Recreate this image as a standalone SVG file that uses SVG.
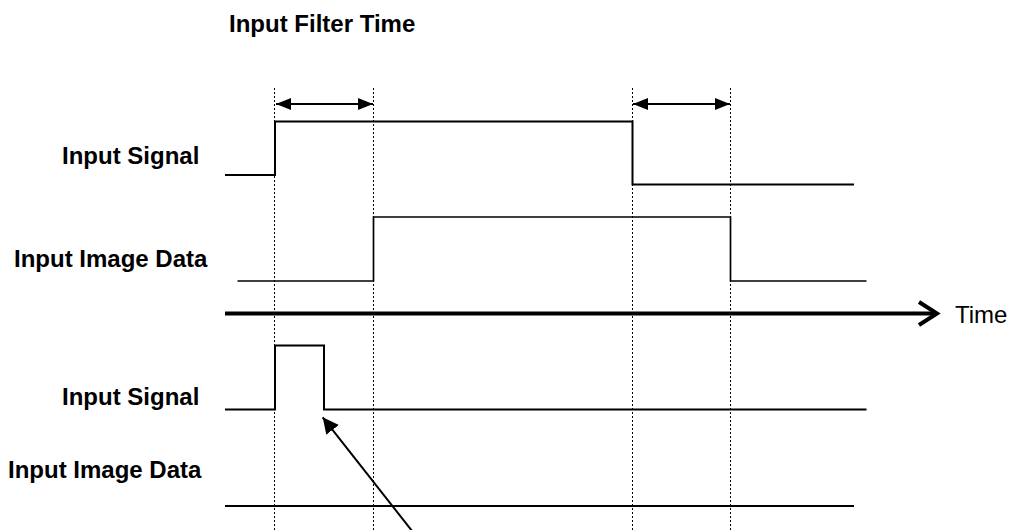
<svg xmlns="http://www.w3.org/2000/svg" width="1010" height="530" viewBox="0 0 1010 530">
  <style>
    .lbl { font-family: "Liberation Sans", Arial, sans-serif; font-size: 24px; font-weight: bold; fill: #000; }
    .reg { font-family: "Liberation Sans", Arial, sans-serif; font-size: 24px; fill: #000; }
    .sig { fill: none; stroke: #000; stroke-width: 2; stroke-linejoin: miter; }
    .sigthin { fill: none; stroke: #000; stroke-width: 1.7; }
    .dot { stroke: #000; stroke-width: 1; stroke-dasharray: 2 2; fill: none; }
    .conn { stroke: #000; stroke-width: 2; fill: none; }
  </style>
  <defs>
    <marker id="tri" viewBox="0 0 15 12" refX="15" refY="6" markerWidth="15" markerHeight="12" markerUnits="userSpaceOnUse" orient="auto-start-reverse">
      <path d="M0,0 L15,6 L0,12 Z" fill="#000"/>
    </marker>
    <marker id="tri2" viewBox="0 0 16 16" refX="16" refY="8" markerWidth="16" markerHeight="16" markerUnits="userSpaceOnUse" orient="auto">
      <path d="M0,0 L16,8 L0,16 Z" fill="#000"/>
    </marker>
  </defs>
  <rect width="1010" height="530" fill="#fff"/>

  <g id="guides">
    <line class="dot" x1="274.5" y1="88" x2="274.5" y2="530"/>
    <line class="dot" x1="373.5" y1="88" x2="373.5" y2="530"/>
    <line class="dot" x1="632.5" y1="88" x2="632.5" y2="530"/>
    <line class="dot" x1="730.5" y1="88" x2="730.5" y2="530"/>
  </g>

  <g id="title">
    <text class="lbl" x="229" y="32">Input Filter Time</text>
  </g>

  <g id="input-signal-1">
    <text class="lbl" x="62" y="164">Input Signal</text>
    <polyline class="sig" points="225,175 275,175 275,121.5 632.5,121.5 632.5,184.5 854,184.5"/>
  </g>

  <g id="input-image-data-1">
    <text class="lbl" x="14" y="267">Input Image Data</text>
    <polyline class="sigthin" points="237.5,281 373.5,281 373.5,217 730.5,217 730.5,281 866.5,281"/>
  </g>

  <g id="time-axis">
    <line x1="225" y1="313.5" x2="935" y2="313.5" stroke="#000" stroke-width="4"/>
    <polyline points="919,302 937,313.5 919,325" fill="none" stroke="#000" stroke-width="4"/>
    <text class="reg" x="955" y="323">Time</text>
  </g>

  <g id="input-signal-2">
    <text class="lbl" x="62" y="405">Input Signal</text>
    <polyline class="sig" points="225,409.5 275,409.5 275,345.5 324,345.5 324,409.5 866.5,409.5"/>
  </g>

  <g id="input-image-data-2">
    <text class="lbl" x="8" y="478">Input Image Data</text>
    <line class="sig" x1="225" y1="506" x2="854" y2="506"/>
  </g>

  <g id="connectors">
    <line class="conn" x1="276" y1="104" x2="373" y2="104" marker-start="url(#tri)" marker-end="url(#tri)"/>
    <line class="conn" x1="633" y1="104" x2="730" y2="104" marker-start="url(#tri)" marker-end="url(#tri)"/>
    <line class="conn" x1="416" y1="536" x2="322.7" y2="417.3" marker-end="url(#tri2)"/>
  </g>
</svg>
